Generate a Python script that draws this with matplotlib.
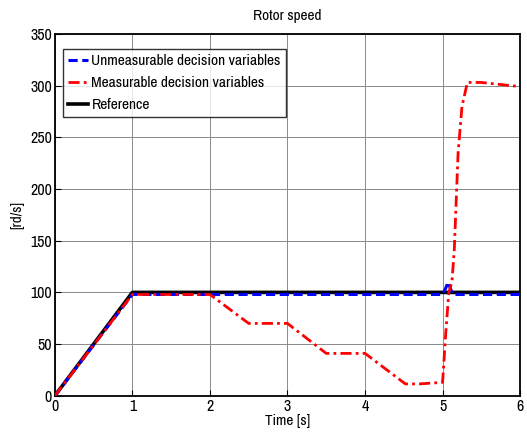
import matplotlib
matplotlib.use("Agg")
import matplotlib.pyplot as plt

plt.rcParams["font.family"] = ["Archivo Narrow", "Liberation Sans", "DejaVu Sans"]

# Reference speed
t_ref = [0, 1, 6]
w_ref = [0, 100, 100]

# Unmeasurable decision variables
t_unm = [0, 1, 5.0, 5.04, 5.07, 5.10, 5.13, 6]
w_unm = [0, 98, 98, 104, 110, 104, 98, 98]

# Measurable decision variables
t_mea = [0, 1, 2, 2.5, 3, 3.5, 4, 4.52, 4.7, 5.0, 5.04, 5.08, 5.12, 5.15,
         5.2, 5.25, 5.32, 5.5, 6]
w_mea = [0, 98, 98, 70, 70, 41, 41, 11.5, 11.5, 13, 60, 100, 110, 140,
         235, 280, 303, 303, 299]

fig = plt.figure(figsize=(5.27, 4.34), dpi=100)
ax = fig.add_axes([0.104, 0.088, 0.883, 0.834])

ax.plot(t_ref, w_ref, color="black", lw=2.6, label="Reference", zorder=3)
ax.plot(t_unm, w_unm, color="blue", ls="--", lw=2.2, dashes=(3, 1.5),
        label="Unmeasurable decision variables", zorder=4)
ax.plot(t_mea, w_mea, color="red", ls="-.", lw=2.0, dashes=(4, 1.5, 1, 1.5),
        label="Measurable decision variables", zorder=5)

ax.set_xlim(0, 6)
ax.set_ylim(0, 350)
ax.set_xticks(range(0, 7))
ax.set_yticks(range(0, 351, 50))
ax.grid(True, color="#8a8a8a", lw=0.7)
ax.tick_params(direction="in", length=4, labelsize=11.5, pad=2)
for s in ax.spines.values():
    s.set_linewidth(1.3)

ax.set_title("Rotor speed", fontsize=11, pad=10)
ax.set_xlabel("Time [s]", fontsize=11, labelpad=0)
ax.set_ylabel("[rd/s]", fontsize=11, labelpad=4)

h, l = ax.get_legend_handles_labels()
order = [1, 2, 0]
leg = ax.legend([h[i] for i in order], [l[i] for i in order], loc="upper left",
                fontsize=11.2, frameon=True, fancybox=False,
                bbox_to_anchor=(0.017, 0.958), borderaxespad=0,
                handlelength=1.3, handletextpad=0.2, labelspacing=0.5,
                borderpad=0.35)
leg.get_frame().set_edgecolor("black")
leg.get_frame().set_linewidth(1.0)

fig.savefig("out.png", dpi=100)
